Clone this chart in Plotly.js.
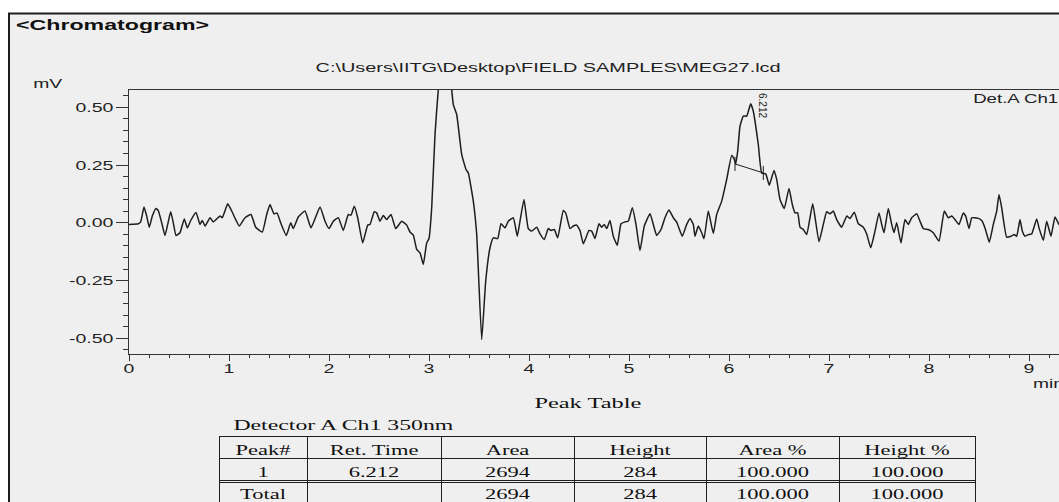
<!DOCTYPE html>
<html>
<head>
<meta charset="utf-8">
<script src="https://cdn.plot.ly/plotly-3.0.1.min.js"></script>
<style>
  html, body { margin: 0; padding: 0; background: #ffffff; overflow: hidden; }
  #chart { width: 1059px; height: 502px; }
</style>
</head>
<body>
<div id="chart"></div>
<script>
// ---------------- data ----------------
const timeMin = [
  0.000,0.093,0.117,0.150,0.177,0.203,0.233,0.270,0.293,0.327,0.360,0.387,0.417,0.443,0.470,0.510,0.553,0.583,0.617,0.670,
  0.710,0.733,0.760,0.810,0.843,0.910,0.933,0.987,1.027,1.067,1.103,1.160,1.220,1.267,1.333,1.377,1.410,1.450,1.480,1.520,
  1.573,1.617,1.643,1.693,1.760,1.820,1.910,1.960,2.000,2.043,2.093,2.143,2.193,2.220,2.253,2.287,2.337,2.387,2.410,2.453,
  2.477,2.510,2.543,2.577,2.620,2.667,2.727,2.777,2.810,2.843,2.877,2.910,2.943,2.977,3.000,3.027,3.060,3.093,3.150,3.190,
  3.227,3.243,3.277,3.327,3.370,3.393,3.443,3.477,3.527,3.567,3.610,3.643,3.687,3.720,3.760,3.793,3.843,3.883,3.910,3.950,
  3.993,4.027,4.077,4.110,4.153,4.193,4.220,4.253,4.287,4.343,4.367,4.410,4.443,4.477,4.510,4.543,4.600,4.627,4.660,4.700,
  4.727,4.753,4.777,4.810,4.843,4.883,4.920,4.960,4.993,5.033,5.070,5.110,5.153,5.210,5.243,5.277,5.320,5.360,5.400,5.443,
  5.477,5.533,5.577,5.610,5.643,5.660,5.693,5.727,5.750,5.793,5.843,5.877,5.927,5.977,6.027,6.053,6.067,6.087,6.110,6.143,
  6.177,6.217,6.243,6.293,6.327,6.367,6.403,6.450,6.477,6.510,6.553,6.600,6.633,6.660,6.687,6.710,6.743,6.777,6.837,6.900,
  6.943,6.977,7.010,7.043,7.077,7.127,7.177,7.210,7.253,7.293,7.343,7.377,7.417,7.460,7.500,7.527,7.550,7.593,7.627,7.650,
  7.677,7.720,7.760,7.793,7.827,7.877,7.910,7.943,7.993,8.043,8.100,8.153,8.193,8.227,8.260,8.300,8.343,8.367,8.400,8.427,
  8.453,8.493,8.527,8.560,8.603,8.643,8.677,8.700,8.727,8.777,8.820,8.853,8.877,8.910,8.933,8.960,8.993,9.027,9.077,9.100,
  9.143,9.177,9.220,9.260,9.300,9.350
];
const signalMV = [
  -0.007,-0.004,0.004,0.068,0.029,-0.019,0.029,0.062,0.053,0.000,-0.055,-0.007,0.048,0.000,-0.055,-0.043,0.017,-0.022,0.010,0.045,
  -0.007,0.010,-0.014,0.022,0.004,0.029,0.022,0.082,0.051,0.014,-0.014,0.022,0.036,-0.019,-0.040,0.036,0.079,0.039,0.043,-0.004,
  -0.055,0.000,-0.025,0.025,0.051,-0.022,0.068,0.007,-0.025,0.007,0.022,-0.033,0.036,0.033,0.072,0.022,-0.087,-0.010,-0.007,0.048,
  0.043,0.007,0.032,0.014,0.036,-0.025,0.007,-0.010,-0.040,-0.053,-0.115,-0.130,-0.180,-0.087,-0.068,0.065,0.382,0.577,0.800,0.720,
  0.577,0.512,0.469,0.296,0.231,0.216,0.094,-0.050,-0.505,-0.253,-0.108,-0.065,-0.068,-0.004,-0.022,0.007,0.022,-0.058,0.007,0.101,
  -0.025,-0.036,-0.019,-0.048,-0.072,-0.025,-0.033,-0.029,-0.065,0.053,0.043,-0.025,-0.014,-0.010,-0.033,-0.091,-0.033,-0.036,-0.068,-0.004,
  -0.019,-0.007,-0.025,0.010,-0.058,-0.097,-0.004,0.004,0.007,0.065,-0.007,-0.120,-0.014,0.039,-0.007,-0.055,-0.029,0.022,0.055,0.022,
  0.003,-0.058,-0.007,0.019,-0.007,-0.058,-0.014,-0.043,-0.069,0.051,-0.046,0.036,0.094,0.188,0.291,0.274,0.255,0.310,0.418,0.462,
  0.462,0.515,0.483,0.339,0.216,0.212,0.163,0.227,0.188,0.101,0.062,0.149,0.079,0.043,0.043,-0.019,-0.029,-0.051,0.082,-0.082,
  -0.007,0.048,0.039,0.051,0.014,-0.019,0.029,0.019,0.046,-0.004,-0.019,-0.048,-0.108,-0.036,0.043,-0.007,-0.043,0.062,-0.007,-0.043,
  0.000,-0.087,0.014,-0.007,0.022,0.039,0.007,-0.025,-0.029,-0.043,-0.079,0.051,0.022,0.029,0.014,-0.007,0.043,0.029,-0.025,0.022,
  0.022,0.019,0.010,-0.022,-0.084,-0.007,0.051,0.123,0.065,-0.062,-0.058,-0.051,-0.058,0.014,-0.036,-0.058,-0.051,-0.048,0.017,-0.022,
  -0.076,0.007,-0.058,0.025,-0.007,-0.020
];

// integration baseline of the detected peak
const baselineTime = [6.060, 6.343];
const baselineMV = [0.255, 0.216];

// axis ticks
const xTickVals = [0,1,2,3,4,5,6,7,8,9];
const xTickText = ['0','1','2','3','4','5','6','7','8','9'];
const yTickVals = [-0.50,-0.25,0.00,0.25,0.50];
const yTickText = ['-0.50','-0.25','0.00','0.25','0.50'];

// peak table
const tableHeader = ['Peak#','Ret. Time','Area','Height','Area %','Height %'];
const peakNo = ['1','Total'];
const retTime = ['6.212',''];
const peakArea = ['2694','2694'];
const peakHeight = ['284','284'];
const areaPct = ['100.000','100.000'];
const heightPct = ['100.000','100.000'];

// texts
const reportTitle = '<Chromatogram>';
const filePath = 'C:\\Users\\IITG\\Desktop\\FIELD SAMPLES\\MEG27.lcd';
const yUnit = 'mV';
const xUnit = 'min';
const channelLabel = 'Det.A Ch1';
const tableTitle = 'Peak Table';
const detectorLabel = 'Detector A Ch1 350nm';

// ---------------- layout helpers ----------------
const W = 1059, H = 502;
const px = v => v / W;
const py = v => 1 - v / H;
const esc = s => s.replace(/&/g,'&amp;').replace(/</g,'&lt;').replace(/>/g,'&gt;');
const grey = '#efefef';
const ink = '#1e1e1e';
const sans = 'Liberation Sans, Arial, sans-serif';
const serif = 'Liberation Serif, Times New Roman, serif';

const traces = [
  {
    type: 'scatter', mode: 'lines', x: timeMin, y: signalMV,
    line: {color: ink, width: 1.5, shape: 'spline', smoothing: 0.4},
    hoverinfo: 'skip', cliponaxis: true
  },
  {
    type: 'scatter', mode: 'lines+markers', x: baselineTime, y: baselineMV,
    line: {color: ink, width: 1},
    marker: {symbol: 'line-ns-open', size: 10, color: ink, line: {width: 1, color: ink}},
    hoverinfo: 'skip'
  },
  {
    type: 'table',
    domain: {x: [px(219), px(975)], y: [0, py(436)]},
    columnwidth: [88, 134, 133, 132, 133, 136],
    header: {
      values: tableHeader,
      align: 'center', height: 22,
      fill: {color: grey}, line: {color: ink, width: 1},
      font: {family: serif, size: 15, color: '#111'}
    },
    cells: {
      values: [peakNo, retTime, peakArea, peakHeight, areaPct, heightPct],
      align: 'center', height: 22,
      fill: {color: grey}, line: {color: ink, width: 1},
      font: {family: serif, size: 15, color: '#111'}
    }
  }
];

const annotations = [
  {text: esc(reportTitle), x: px(112.5), y: py(25), font: {family: sans, size: 15, color: '#111', weight: 'bold'}},
  {text: esc(filePath), x: px(547.5), y: py(67), font: {family: sans, size: 13, color: '#222'}},
  {text: yUnit, x: px(48), y: py(84), font: {family: sans, size: 13, color: '#222'}},
  {text: channelLabel, x: px(1015.5), y: py(98), font: {family: sans, size: 13, color: '#222'}},
  {text: xUnit, x: px(1048), y: py(383), font: {family: sans, size: 13, color: '#222'}},
  {text: tableTitle, x: px(588), y: py(403), font: {family: serif, size: 15, color: '#111'}},
  {text: detectorLabel, x: px(343), y: py(425), font: {family: serif, size: 15, color: '#111'}},
  {text: retTime[0], xref: 'x', yref: 'y', x: 6.34, y: 0.51, textangle: 90,
   font: {family: sans, size: 10, color: '#222'}}
].map(a => Object.assign({xref: 'paper', yref: 'paper', xanchor: 'center', yanchor: 'middle', showarrow: false}, a));

const stretchWidths = {};
stretchWidths[reportTitle] = 193;
stretchWidths[filePath] = 465;
stretchWidths[yUnit] = 29;
stretchWidths[channelLabel] = 85;
stretchWidths[xUnit] = 31;
stretchWidths[tableTitle] = 107;
stretchWidths[detectorLabel] = 220;

const layout = {
  width: W, height: H,
  margin: {l: 0, r: 0, t: 0, b: 0, pad: 0},
  paper_bgcolor: '#ffffff',
  plot_bgcolor: 'rgba(0,0,0,0)',
  showlegend: false,
  xaxis: {
    domain: [px(129), 1], range: [0, 9.3],
    tickmode: 'array', tickvals: xTickVals, ticktext: xTickText,
    ticks: 'outside', ticklen: 6, tickwidth: 1, tickcolor: '#333',
    showline: true, linecolor: '#333', linewidth: 1, mirror: true,
    showgrid: false, zeroline: false, ticklabelstandoff: -4,
    tickfont: {family: sans, size: 13, color: '#222'},
    minor: {tickmode: 'linear', tick0: 0, dtick: 0.2, ticks: 'outside', ticklen: 3, tickwidth: 1, tickcolor: '#333', showgrid: false}
  },
  yaxis: {
    domain: [py(354), py(90)], range: [-0.568, 0.575],
    tickmode: 'array', tickvals: yTickVals, ticktext: yTickText,
    ticks: 'outside', ticklen: 12, tickwidth: 1, tickcolor: '#333',
    showline: true, linecolor: '#333', linewidth: 1,
    showgrid: false, zeroline: false, ticklabelstandoff: 0,
    tickfont: {family: sans, size: 13, color: '#222'},
    minor: {tickmode: 'linear', tick0: 0, dtick: 0.05, ticks: 'outside', ticklen: 5, tickwidth: 1, tickcolor: '#333', showgrid: false}
  },
  shapes: [
    {type: 'rect', xref: 'paper', yref: 'paper', x0: px(9), x1: 1.05, y0: -0.05, y1: py(13.5),
     fillcolor: grey, line: {color: ink, width: 2}, layer: 'below'},
    {type: 'line', xref: 'paper', yref: 'paper', x0: px(219), x1: px(975), y0: py(482.5), y1: py(482.5),
     line: {color: ink, width: 1}, layer: 'above'}
  ],
  annotations: annotations
};

const gd = document.getElementById('chart');
function stretch(el, factor) {
  const w = el.getComputedTextLength();
  if (w > 0) {
    el.setAttribute('textLength', (w * factor).toFixed(2));
    el.setAttribute('lengthAdjust', 'spacingAndGlyphs');
  }
}
Plotly.newPlot(gd, traces, layout, {staticPlot: true, displayModeBar: false}).then(function () {
  gd.querySelectorAll('.annotation-text').forEach(function (t) {
    const w = stretchWidths[t.textContent];
    if (w) { t.setAttribute('textLength', w); t.setAttribute('lengthAdjust', 'spacingAndGlyphs'); }
  });
  gd.querySelectorAll('.xtick text, .ytick text').forEach(function (t) { stretch(t, 1.5); });
  gd.querySelectorAll('.table text').forEach(function (t) { stretch(t, 1.5); });
});
</script>
</body>
</html>
